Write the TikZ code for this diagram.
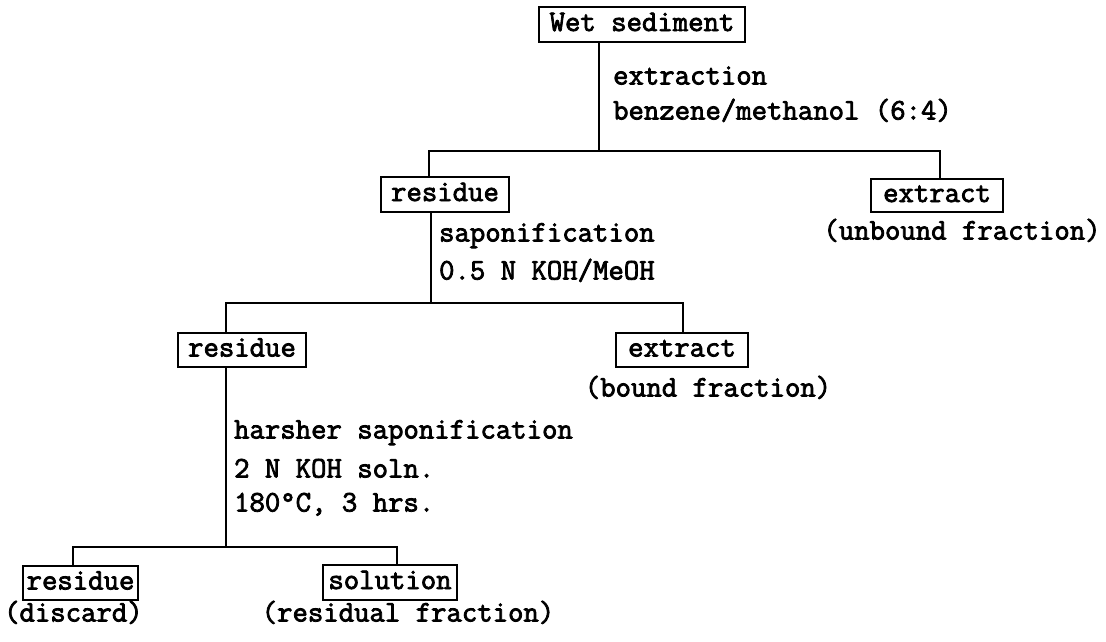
\documentclass[tikz,border=0pt]{standalone}
\usepackage{fontspec}
\newfontfamily\cour[FakeBold=2.6]{Latin Modern Mono}
\begin{document}
\begin{tikzpicture}[x=1pt,y=-1pt,line width=2.2pt,
  txt/.style={font=\cour\fontsize{29.9}{34}\selectfont},
  box/.style={txt,draw,inner sep=0pt,minimum height=35pt,text height=17pt,text depth=4pt},
  note/.style={txt,anchor=west,inner sep=0pt,text height=17pt,text depth=4pt},
  sub/.style={txt,inner sep=0pt,text height=17pt,text depth=4pt}]
\useasboundingbox (0,0) rectangle (1106,641);
% boxes
\node[box,minimum width=206pt] (ws) at (642,24.5) {Wet sediment};
\node[box,minimum width=128pt] (r1) at (445,194.5) {residue};
\node[box,minimum width=132pt,minimum height=33pt] (e1) at (937,195.5) {extract};
\node[box,minimum width=128pt,minimum height=34pt] (r2) at (242,350) {residue};
\node[box,minimum width=132pt,minimum height=34pt] (e2) at (682,350) {extract};
\node[box,minimum width=115pt,minimum height=34pt] (r3) at (80.5,583) {residue};
\node[box,minimum width=134pt] (s3) at (390,582.5) {solution};
% notes
\node[note] (n1a) at (612,78) {extraction};
\node[note] (n1b) at (612,113) {benzene/methanol (6:4)};
\node[note] (n2a) at (438,235) {saponification};
\node[note] (n2b) at (438,273) {0.5 N KOH/MeOH};
\node[note] (n3a) at (233,432) {harsher saponification};
\node[note] (n3b) at (233,471) {2 N KOH soln.};
\node[note] (n3c) at (233,505) {180°C, 3 hrs.};
% sub labels
\node[sub] (u1) at (962,233) {(unbound fraction)};
\node[sub] (u2) at (708,390) {(bound fraction)};
\node[sub,anchor=west] (u3) at (3,615) {(discard)};
\node[sub] (u4) at (408,615) {(residual fraction)};
% junctions
\coordinate (j1) at (599,151);
\coordinate (h1l) at (429,151);
\coordinate (h1r) at (940,151);
\coordinate (j2) at (431,303);
\coordinate (h2l) at (226,303);
\coordinate (h2r) at (683,303);
\coordinate (j3) at (226,547);
\coordinate (h3l) at (73,547);
\coordinate (h3r) at (397,547);
% connectors
\draw (j1 |- ws.south) -- (j1);
\draw (h1l |- r1.north) -- (h1l) -- (h1r) -- (h1r |- e1.north);
\draw (j2 |- r1.south) -- (j2);
\draw (h2l |- r2.north) -- (h2l) -- (h2r) -- (h2r |- e2.north);
\draw (j3 |- r2.south) -- (j3);
\draw (h3l |- r3.north) -- (h3l) -- (h3r) -- (h3r |- s3.north);
\end{tikzpicture}
\end{document}
